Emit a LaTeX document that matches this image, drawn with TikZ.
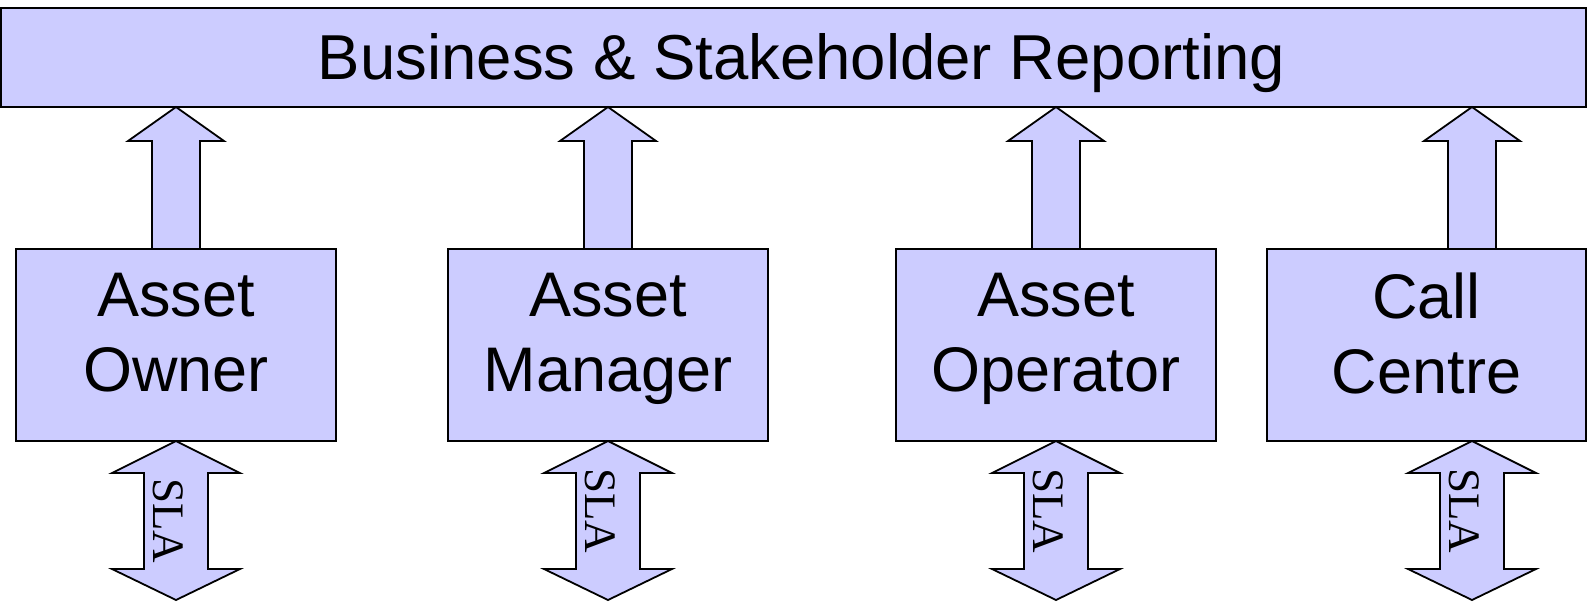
\documentclass[tikz,border=0pt]{standalone}
\usepackage{fontspec}
\setmainfont{Liberation Sans}
\newfontfamily\slafont{Liberation Serif}
\usetikzlibrary{calc}
\definecolor{boxfill}{HTML}{CCCCFF}
\begin{document}
\begin{tikzpicture}[x=1pt,y=-1pt,
  panel/.style={rectangle, draw=black, line width=1.8pt, fill=boxfill, inner sep=0pt, outer sep=0pt},
  rolebox/.style={panel, minimum width=320pt, minimum height=192pt},
  roletext/.style={font=\fontsize{63}{74.5}\selectfont, align=center, anchor=north, inner sep=0pt},
  blockarrow/.style={draw=black, line width=1.8pt, fill=boxfill, line join=miter},
  slatext/.style={font=\slafont\fontsize{45}{45}\selectfont, rotate=-90, anchor=base, inner sep=0pt}]
\useasboundingbox (0,0) rectangle (1587,603);

% reporting bar across the top
\node[panel, minimum width=1585pt, minimum height=99pt] (report) at (793.5,57.5) {};
\node[font=\fontsize{63.5}{72}\selectfont, anchor=base, inner sep=0pt]
  (report-txt) at (801.5,79) {Business \& Stakeholder Reporting};

% the four parties
\node[rolebox] (owner)    at (176,345)  {};
\node[rolebox] (manager)  at (608,345)  {};
\node[rolebox] (operator) at (1056,345) {};
\node[rolebox, minimum width=319pt] (callcentre) at (1426.5,345) {};

\node[roletext] (owner-txt)      at (176,273)    {Asset\\Owner};
\node[roletext] (manager-txt)    at (608,273)    {Asset\\Manager};
\node[roletext] (operator-txt)   at (1056,273)   {Asset\\Operator};
\node[roletext] (callcentre-txt) at (1426.5,273) {Call\\Centre};

% arrow axes and the free lower ends of the SLA arrows
\coordinate (ax-owner)      at (176,0);
\coordinate (ax-manager)    at (608,0);
\coordinate (ax-operator)   at (1056,0);
\coordinate (ax-callcentre) at (1472,0);
\foreach \b in {owner,manager,operator,callcentre}
  \coordinate (sla-\b) at ($(ax-\b)+(0,600)$);

% reporting arrows (box -> bar) and two-way SLA arrows
\foreach \b/\dy in {owner/0,manager/-10,operator/-10,callcentre/-10}{
  \draw[blockarrow] let \p1=(report.south -| ax-\b), \p2=(\b.north -| ax-\b) in
    (\p1) -- ({\x1+48pt},{\y1-34pt}) -- ({\x1+24pt},{\y1-34pt})
    -- ({\x1+24pt},\y2) -- ({\x1-24pt},\y2)
    -- ({\x1-24pt},{\y1-34pt}) -- ({\x1-48pt},{\y1-34pt}) -- cycle;
  \draw[blockarrow] let \p1=(\b.south -| ax-\b), \p2=(sla-\b) in
    (\p1) -- ({\x1+64pt},{\y1-32pt}) -- ({\x1+32pt},{\y1-32pt})
    -- ({\x1+32pt},{\y2+31pt}) -- ({\x1+64pt},{\y2+31pt}) -- (\p2)
    -- ({\x1-64pt},{\y2+31pt}) -- ({\x1-32pt},{\y2+31pt})
    -- ({\x1-32pt},{\y1-32pt}) -- ({\x1-64pt},{\y1-32pt}) -- cycle;
  \node[slatext] (sla-txt-\b)
    at ($($(\b.south -| ax-\b)!0.5!(sla-\b)$)+(-22.5,\dy)$) {SLA};
}
\end{tikzpicture}
\end{document}
